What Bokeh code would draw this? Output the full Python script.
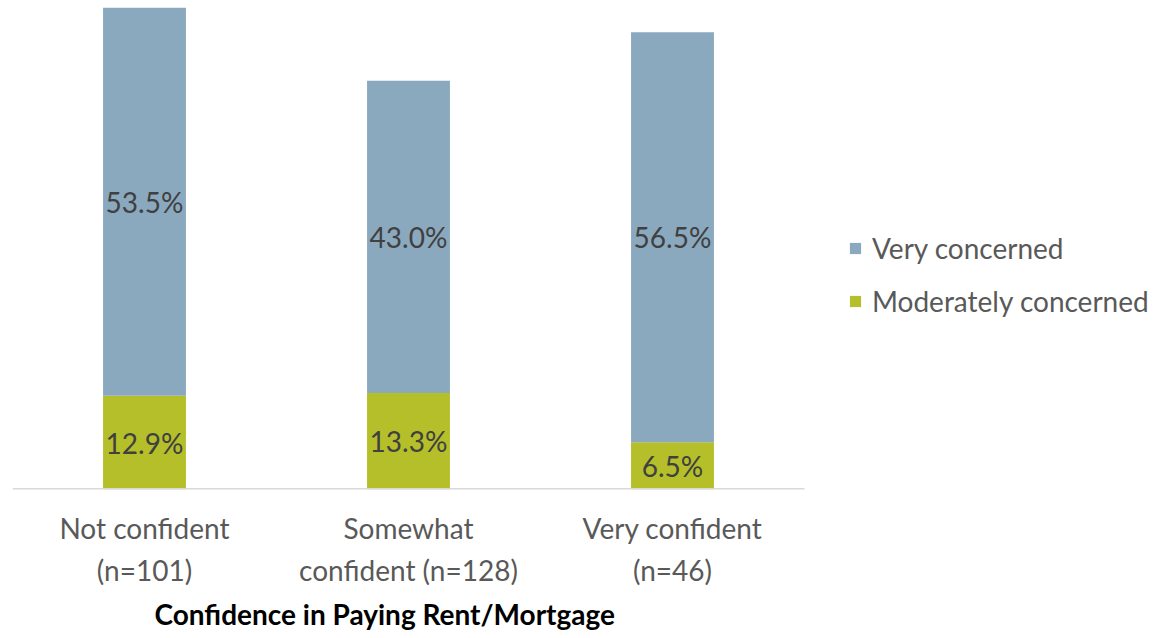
from bokeh.plotting import figure
from bokeh.models import Range1d, FixedTicker, Title, Legend, LegendItem, ColumnDataSource
from bokeh.core.properties import value
from bokeh.embed import file_html
from bokeh.resources import INLINE

categories = ["Not confident\n(n=101)", "Somewhat\nconfident (n=128)", "Very confident\n(n=46)"]
moderately = [12.9, 13.3, 6.5]
very = [53.5, 43.0, 56.5]
series_names = ["Very concerned", "Moderately concerned"]
axis_title = "Confidence in Paying Rent/Mortgage"

BLUE = "#8BA9BE"
GREEN = "#B5BF2A"
FONT = "Lato"

W, H = 1172, 638
LEFT, TOP, BOTTOM = 12, 7, 149
PLOT_W = 792  # width of the category area; frame continues right to hold the legend
n = len(categories)
x_end = n * (W - LEFT) / PLOT_W

xs = [i + 0.5 for i in range(n)]
total = [m + v for m, v in zip(moderately, very)]
src = ColumnDataSource(dict(
    x=xs, mod=moderately, very=very, total=total,
    mod_mid=[m / 2 for m in moderately],
    very_mid=[m + v / 2 for m, v in zip(moderately, very)],
    mod_lbl=[f"{m:.1f}%" for m in moderately],
    very_lbl=[f"{v:.1f}%" for v in very],
))

p = figure(width=W, height=H, x_range=Range1d(0, x_end), y_range=Range1d(0, max(total)),
           output_backend="svg", toolbar_location=None, y_axis_location=None,
           min_border_left=LEFT, min_border_right=0, min_border_top=TOP, min_border_bottom=BOTTOM)
p.outline_line_color = None
p.xgrid.visible = False
p.ygrid.visible = False

r_mod = p.vbar(x="x", bottom=0, top="mod", width=0.314, color=GREEN, line_color=None, source=src)
r_very = p.vbar(x="x", bottom="mod", top="total", width=0.314, color=BLUE, line_color=None, source=src)

# category axis baseline (spans the category area only)
p.segment(x0=[0], y0=[0], x1=[n], y1=[0], line_color="#D9D9D9", line_width=3)

p.text(x="x", y="mod_mid", text="mod_lbl", source=src, text_align="center", text_baseline="middle",
       text_font=value(FONT), text_font_size="28px", text_color="#404040")
p.text(x="x", y="very_mid", text="very_lbl", source=src, text_align="center", text_baseline="middle",
       text_font=value(FONT), text_font_size="28px", text_color="#404040")

ax = p.xaxis[0]
ax.ticker = FixedTicker(ticks=xs)
ax.major_label_overrides = {x: c for x, c in zip(xs, categories)}
ax.axis_line_color = None
ax.major_tick_line_color = None
ax.minor_tick_line_color = None
ax.major_label_standoff = 15
ax.major_label_text_font = FONT
ax.major_label_text_font_size = "28px"
ax.major_label_text_color = "#595959"
ax.major_label_text_line_height = 1.25

p.add_layout(Title(text=axis_title, align="left", offset=142, text_font=FONT, text_font_style="bold",
                   text_font_size="28px", text_color="black", standoff=8), "below")

legend = Legend(items=[LegendItem(label=series_names[0], renderers=[r_very]),
                       LegendItem(label=series_names[1], renderers=[r_mod])],
                location=(836, 171), margin=0, padding=0, spacing=19,
                glyph_width=14, glyph_height=14, label_height=30, label_standoff=10,
                label_text_font=FONT, label_text_font_size="28px", label_text_color="#595959",
                border_line_color=None, background_fill_alpha=0)
p.add_layout(legend)

open("out.html", "w").write(file_html(p, INLINE))
